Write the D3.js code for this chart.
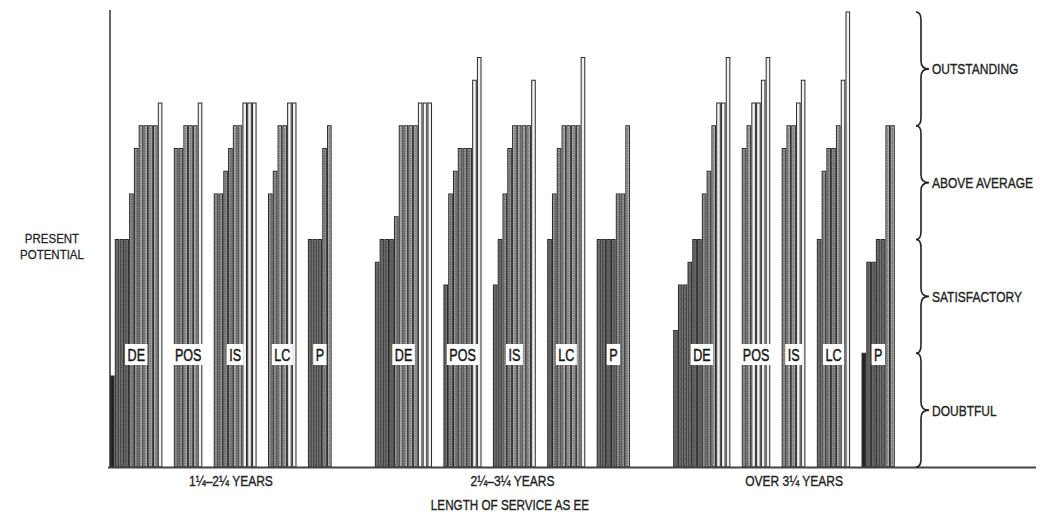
<!DOCTYPE html>
<html><head><meta charset="utf-8">
<script src="https://cdn.jsdelivr.net/npm/d3@7"></script>
<style>body{margin:0;background:#fff} svg{display:block}</style>
</head><body><svg id="c" width="1040" height="517"></svg>
<script>
const periodLabels = ["1¼–2¼ YEARS", "2¼–3¼ YEARS", "OVER 3¼ YEARS"];
const measureLabels = ["DE", "POS", "IS", "LC", "P"];
const ratingLabels = ["DOUBTFUL", "SATISFACTORY", "ABOVE AVERAGE", "OUTSTANDING"];
const yAxisTitle = ["PRESENT", "POTENTIAL"];
const xAxisTitle = "LENGTH OF SERVICE AS EE";
// rating of each EE on a 0-20 scale (5 points per rating band), one list per measure
const serviceShort = [
  [4, 10, 10, 10, 12, 14, 15, 15, 15, 15, 16],
  [14, 14, 15, 15, 15, 16],
  [12, 12, 13, 14, 15, 15, 16, 16, 16],
  [12, 13, 15, 15, 16, 16],
  [10, 10, 10, 14, 15]
];
const serviceMid = [
  [9, 10, 10, 10, 11, 15, 15, 15, 15, 16, 16, 16],
  [8, 12, 13, 14, 14, 14, 17, 18],
  [8, 10, 12, 14, 15, 15, 15, 15, 17],
  [10, 12, 14, 15, 15, 15, 15, 18],
  [10, 10, 10, 10, 12, 12, 15]
];
const serviceLong = [
  [6, 8, 8, 9, 10, 10, 12, 13, 15, 16, 16, 18],
  [14, 15, 16, 16, 17, 18],
  [14, 15, 15, 16, 17],
  [10, 13, 14, 14, 15, 17, 20],
  [5, 9, 9, 10, 10, 15, 15]
];

const svg = d3.select("#c");
const FONT = "'Liberation Sans', Arial, sans-serif";
const INK = "#222";

// slot layout
const periods = [serviceShort, serviceMid, serviceLong];
const GAP = 2.35, PGAP = 9;
let slot = 0;
const bars = [], tags = [], spans = [];
periods.forEach((groups, pi) => {
  if (pi > 0) slot += PGAP;
  const pStart = slot;
  groups.forEach((vals, gi) => {
    if (gi > 0) slot += GAP;
    const gStart = slot;
    vals.forEach((v, k) => { bars.push({ p: pi, g: gi, k, v, s: slot }); slot += 1; });
    tags.push({ text: measureLabels[gi], c: (gStart + slot) / 2 });
  });
  spans.push({ text: periodLabels[pi], c: (pStart + slot) / 2 });
});

const x = d3.scaleLinear().domain([0, slot]).range([110, 895]);
const y = d3.scaleLinear().domain([0, 20]).range([467, 12]);
const unit = x(1) - x(0);

function fillFor(v) {
  if (v <= 5) return "#2b2b2b";
  if (v <= 10) return "#727272";
  if (v <= 14) return "#9c9c9c";
  if (v <= 15) return "#b9b9b9";
  return "#f0f0f0";
}

// bars
const bg = svg.append("g");
bg.selectAll("rect").data(bars).join("rect")
  .attr("x", d => x(d.s) + 0.5)
  .attr("width", unit - 1.2)
  .attr("y", d => y(d.v))
  .attr("height", d => y(0) - y(d.v))
  .attr("fill", d => fillFor(d.v))
  .attr("stroke", "#2a2a2a")
  .attr("stroke-width", 1);
// hatch line texture
bg.selectAll("line").data(bars.filter(d => d.v < 16)).join("line")
  .attr("x1", d => x(d.s) + unit / 2 - 0.1)
  .attr("x2", d => x(d.s) + unit / 2 - 0.1)
  .attr("y1", d => y(d.v) + 2)
  .attr("y2", y(0))
  .attr("stroke", d => d.v <= 5 ? "#111" : "#444")
  .attr("stroke-width", 0.8)
  .attr("stroke-dasharray", "1.5,1");

// axes lines
svg.append("line").attr("x1", x(0)).attr("x2", x(0)).attr("y1", 10).attr("y2", y(0))
  .attr("stroke", "#333").attr("stroke-width", 1.5);
svg.append("line").attr("x1", 108).attr("x2", 1036).attr("y1", y(0) + 0.5).attr("y2", y(0) + 0.5)
  .attr("stroke", "#444").attr("stroke-width", 2);

function stext(sel, txt, tx, ty, size, sx, anchor) {
  return sel.append("text")
    .attr("transform", `translate(${tx},${ty}) scale(${sx},1)`)
    .attr("text-anchor", anchor || "start")
    .attr("font-family", FONT).attr("font-size", size)
    .attr("fill", INK).attr("stroke", INK).attr("stroke-width", 0.35)
    .text(txt);
}

// measure tags
const LABEL_Y = 354.5;
const TAG_SX = 0.74;
tags.forEach(t => {
  const g = svg.append("g");
  const r = g.append("rect").attr("fill", "#fff");
  const tx = stext(g, t.text, x(t.c), LABEL_Y + 6.3, 17, TAG_SX, "middle")
    .attr("fill", "#151515").attr("stroke", "#151515").attr("stroke-width", 0.45);
  const w = tx.node().getComputedTextLength() * TAG_SX;
  r.attr("x", x(t.c) - w / 2 - 2.5).attr("width", w + 5).attr("y", LABEL_Y - 10.5).attr("height", 21);
});

// period labels
spans.forEach(s => stext(svg, s.text, x(s.c) + 10, 486, 15, 0.8, "middle"));
stext(svg, xAxisTitle, 510, 510, 15, 0.78, "middle");

// y title
stext(svg, yAxisTitle[0], 52, 243, 12.5, 0.92, "middle").attr("stroke-width", 0.25);
stext(svg, yAxisTitle[1], 52, 259, 12.5, 0.92, "middle").attr("stroke-width", 0.25);

// braces
function bracePath(x0, y0, y1) {
  const m = (y0 + y1) / 2, c = 8, t = 8;
  return `M${x0 - 5},${y0} Q${x0},${y0} ${x0},${y0 + c} L${x0},${m - c} Q${x0},${m} ${x0 + t},${m} ` +
         `Q${x0},${m} ${x0},${m + c} L${x0},${y1 - c} Q${x0},${y1} ${x0 - 5},${y1}`;
}
const bands = ratingLabels.map((lab, i) => ({ lab, lo: i * 5, hi: (i + 1) * 5 }));
svg.append("g").selectAll("path").data(bands).join("path")
  .attr("d", d => bracePath(921, y(d.hi), y(d.lo)))
  .attr("fill", "none").attr("stroke", "#222").attr("stroke-width", 1.6);
bands.forEach(d => stext(svg, d.lab, 932, (y(d.hi) + y(d.lo)) / 2 + 5.5, 15, 0.8, "start"));
</script>
</body></html>
